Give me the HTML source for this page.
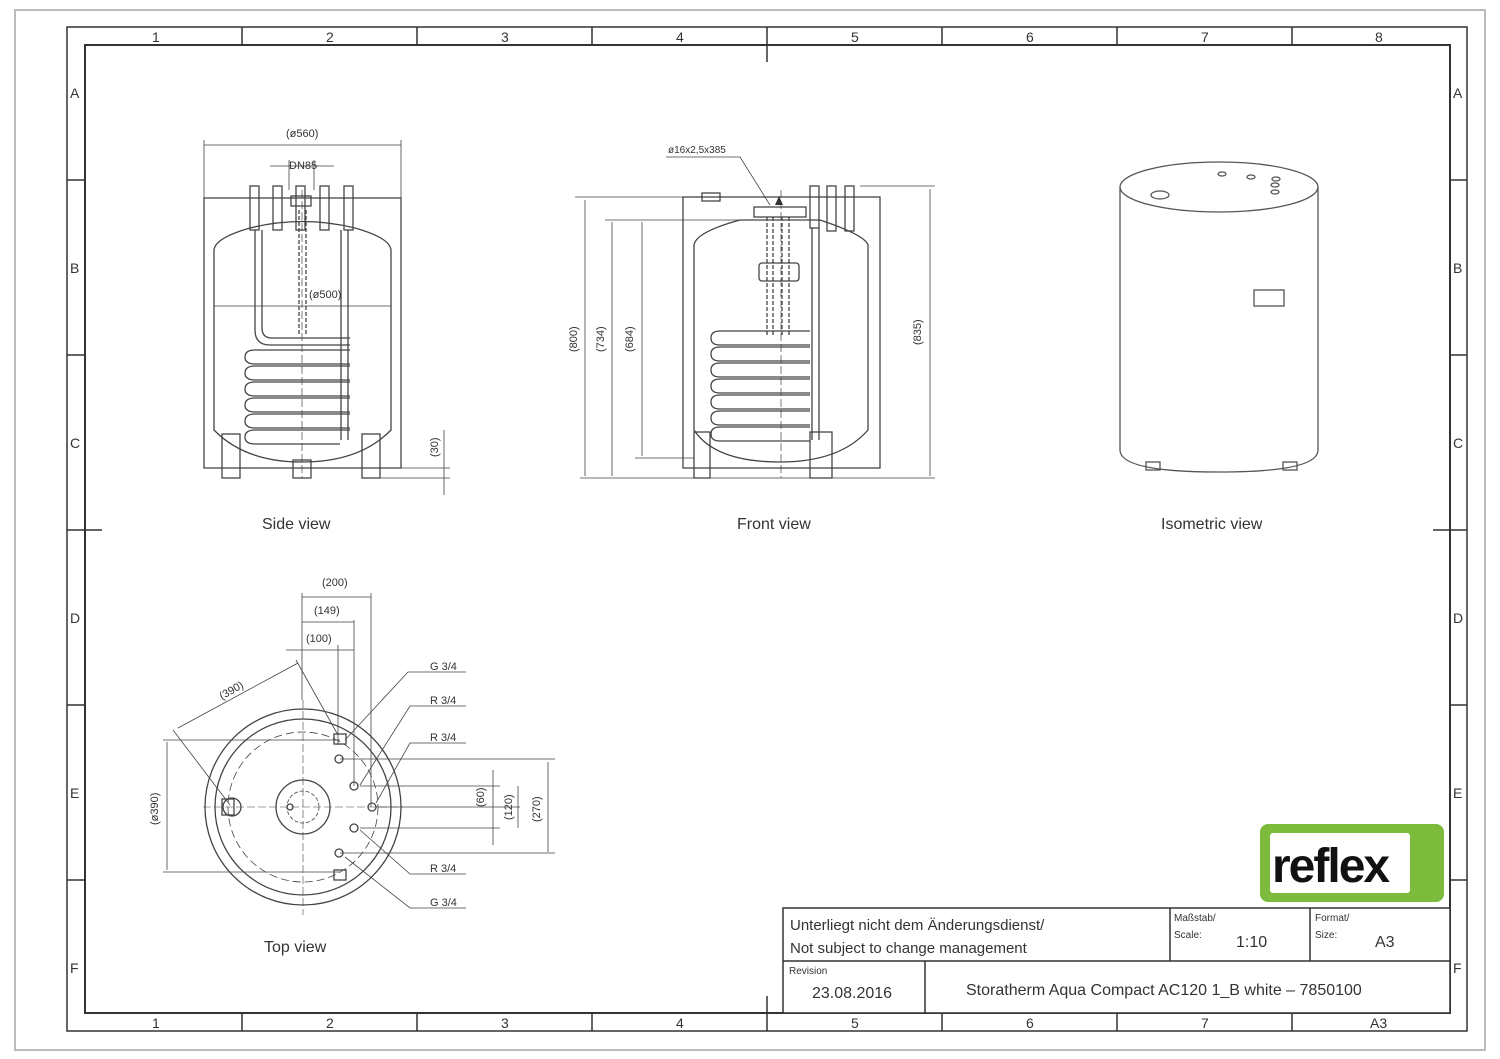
<!DOCTYPE html>
<html><head><meta charset="utf-8"><style>
html,body{margin:0;padding:0;background:#fff}
svg{display:block}
text{font-family:"Liberation Sans",sans-serif;fill:#333}
</style></head><body>
<svg width="1500" height="1059" viewBox="0 0 1500 1059" xmlns="http://www.w3.org/2000/svg">
<rect x="0" y="0" width="1500" height="1059" fill="#fff"/>
<rect x="15" y="10" width="1470" height="1040" fill="none" stroke="#bbb" stroke-width="2"/>
<g stroke="#333" fill="none" stroke-width="1.5">
<rect x="67" y="27" width="1400" height="1004"/>
<rect x="85" y="45" width="1365" height="968" stroke-width="2"/>
<!-- column ticks -->
<path d="M242 27V45M417 27V45M592 27V45M942 27V45M1117 27V45M1292 27V45M767 27V62
M242 1013V1031M417 1013V1031M592 1013V1031M942 1013V1031M1117 1013V1031M1292 1013V1031M767 996V1031
M67 180H85M67 355H85M67 705H85M67 880H85M67 530H102
M1450 180H1467M1450 355H1467M1450 705H1467M1450 880H1467M1433 530H1467"/>
</g>
<g font-size="14" fill="#444">
<text x="152" y="42">1</text><text x="326" y="42">2</text><text x="501" y="42">3</text><text x="676" y="42">4</text><text x="851" y="42">5</text><text x="1026" y="42">6</text><text x="1201" y="42">7</text><text x="1375" y="42">8</text>
<text x="152" y="1028">1</text><text x="326" y="1028">2</text><text x="501" y="1028">3</text><text x="676" y="1028">4</text><text x="851" y="1028">5</text><text x="1026" y="1028">6</text><text x="1201" y="1028">7</text><text x="1370" y="1028">A3</text>
<text x="70" y="98">A</text><text x="70" y="273">B</text><text x="70" y="448">C</text><text x="70" y="623">D</text><text x="70" y="798">E</text><text x="70" y="973">F</text>
<text x="1453" y="98">A</text><text x="1453" y="273">B</text><text x="1453" y="448">C</text><text x="1453" y="623">D</text><text x="1453" y="798">E</text><text x="1453" y="973">F</text>
</g>

<!-- SIDE VIEW -->
<g stroke="#444" fill="none" stroke-width="1.3">
<rect x="204" y="198" width="197" height="270"/>
<path d="M214 250Q215 238 250 228Q302 215 355 228Q390 238 391 250V430Q360 462 302 462Q245 462 214 430Z"/>
<rect x="250" y="186" width="9" height="44"/><rect x="273" y="186" width="9" height="44"/><rect x="296" y="186" width="9" height="44"/><rect x="320" y="186" width="9" height="44"/><rect x="344" y="186" width="9" height="44"/>
<rect x="291" y="196" width="20" height="10"/>
<path d="M299 210V335M306 210V335" stroke-dasharray="4 2"/>
<path d="M255 230V330Q255 345 270 345H350M262 230V328Q262 338 272 338H350"/>
<path d="M348 230V440M341 230V440"/>
<g>
<path d="M350 350H255Q245 350 245 357Q245 364 255 364H350M350 366H255Q245 366 245 373Q245 380 255 380H350M350 382H255Q245 382 245 389Q245 396 255 396H350M350 398H255Q245 398 245 405Q245 412 255 412H350M350 414H255Q245 414 245 421Q245 428 255 428H350M350 430H255Q245 430 245 437Q245 444 255 444H340"/>
</g>
<rect x="222" y="434" width="18" height="44"/><rect x="362" y="434" width="18" height="44"/><rect x="293" y="460" width="18" height="18"/>
<path d="M302 190V478" stroke-dasharray="8 3" stroke-width="0.7"/>
<path d="M204 198V140M401 198V140M204 145H401M214 306H391M289 190V160M314 190V160M270 166H334" stroke-width="0.8"/>
<path d="M401 468H450M380 478H450M444 430V495" stroke-width="0.8"/>
</g>
<g font-size="11"><text x="286" y="137">(ø560)</text><text x="289" y="169">DN85</text><text x="309" y="298">(ø500)</text>
<text transform="translate(438,457) rotate(-90)">(30)</text></g>
<text x="262" y="529" font-size="16">Side  view</text>

<!-- FRONT VIEW -->
<g stroke="#444" fill="none" stroke-width="1.3">
<rect x="683" y="197" width="197" height="271"/>
<rect x="702" y="193" width="18" height="8"/>
<rect x="754" y="207" width="52" height="10"/>
<path d="M694 245Q696 232 740 220H820Q865 235 868 245V430Q840 462 780 462Q715 462 694 430Z"/>
<rect x="810" y="186" width="9" height="42"/><rect x="827" y="186" width="9" height="45"/><rect x="845" y="186" width="9" height="45"/>
<path d="M812 228V440M819 228V440"/>
<path d="M767 217V335M773 217V335M782 217V335M789 217V335" stroke-dasharray="4 2"/>
<rect x="759" y="263" width="40" height="18" rx="3"/>
<path d="M810 331H720Q711 331 711 338Q711 345 720 345H810M810 347H720Q711 347 711 354Q711 361 720 361H810M810 363H720Q711 363 711 370Q711 377 720 377H810M810 379H720Q711 379 711 386Q711 393 720 393H810M810 395H720Q711 395 711 402Q711 409 720 409H810M810 411H720Q711 411 711 418Q711 425 720 425H810M810 427H720Q711 427 711 434Q711 441 720 441H810"/>
<rect x="694" y="432" width="16" height="46"/><rect x="810" y="432" width="22" height="46"/>
<path d="M781 190V478" stroke-dasharray="8 3" stroke-width="0.7"/>
<path d="M580 478H880M575 197H683M605 220H760M635 458H694M666 157H740L770 205M860 186H935M880 478H935" stroke-width="0.8"/>
<path d="M585 200V476M612 222V476M642 222V456M930 189V476" stroke-width="0.8"/>
</g>
<path d="M779 196L783 205H775Z" fill="#333"/>
<g font-size="11"><text x="668" y="153" font-size="10">ø16x2,5x385</text>
<text transform="translate(577,352) rotate(-90)">(800)</text>
<text transform="translate(604,352) rotate(-90)">(734)</text>
<text transform="translate(633,352) rotate(-90)">(684)</text>
<text transform="translate(921,345) rotate(-90)">(835)</text></g>
<text x="737" y="529" font-size="16">Front  view</text>

<!-- ISOMETRIC -->
<g stroke="#555" fill="none" stroke-width="1.3">
<path d="M1120 187V450Q1120 472 1219 472Q1318 472 1318 450V187"/>
<ellipse cx="1219" cy="187" rx="99" ry="25"/>
<ellipse cx="1160" cy="195" rx="9" ry="4"/>
<ellipse cx="1222" cy="174" rx="4" ry="2"/><ellipse cx="1251" cy="177" rx="4" ry="2"/><ellipse cx="1276" cy="179" rx="4" ry="2"/><ellipse cx="1275" cy="185" rx="4" ry="2"/><ellipse cx="1275" cy="192" rx="4" ry="2"/>
<rect x="1254" y="290" width="30" height="16"/>
<rect x="1146" y="462" width="14" height="8"/><rect x="1283" y="462" width="14" height="8"/>
</g>
<text x="1161" y="529" font-size="16">Isometric  view</text>

<!-- TOP VIEW -->
<g stroke="#444" fill="none" stroke-width="1.3">
<circle cx="303" cy="807" r="98"/>
<circle cx="303" cy="807" r="88"/>
<circle cx="303" cy="807" r="75" stroke-dasharray="8 4" stroke-width="0.8"/>
<circle cx="303" cy="807" r="27"/>
<circle cx="303" cy="807" r="16" stroke-dasharray="4 2" stroke-width="0.8"/>
<circle cx="290" cy="807" r="3"/>
<circle cx="232" cy="807" r="9"/>
<rect x="222" y="799" width="12" height="16"/>
<circle cx="339" cy="759" r="4"/><circle cx="354" cy="786" r="4"/><circle cx="372" cy="807" r="4"/><circle cx="354" cy="828" r="4"/><circle cx="339" cy="853" r="4"/>
<rect x="334" y="734" width="12" height="10"/><rect x="334" y="870" width="12" height="10"/>
<path d="M203 807H403M303 700V915" stroke-dasharray="8 3" stroke-width="0.6"/>
<g stroke-width="0.8">
<path d="M302 593V700M371 593V807M354 620V786M338 645V745M302 597H371M302 622H354M286 650H354"/>
<path d="M178 728L298 663M173 730L230 805M296 660L338 735"/>
<path d="M163 740H340M163 872H340M167 742V870"/>
<path d="M340 759H555M360 786H500M376 807H520M360 828H500M340 853H555M493 770V845M518 786V828M548 762V852"/>
<path d="M345 740L408 672H466M360 785L410 706H466M376 803L410 743H466M360 830L410 874H466M345 857L410 908H466"/>
</g>
</g>
<g font-size="11"><text x="322" y="586">(200)</text><text x="314" y="614">(149)</text><text x="306" y="642">(100)</text>
<text transform="translate(222,700) rotate(-30)">(390)</text>
<text transform="translate(158,825) rotate(-90)">(ø390)</text>
<text transform="translate(484,807) rotate(-90)">(60)</text>
<text transform="translate(512,820) rotate(-90)">(120)</text>
<text transform="translate(540,822) rotate(-90)">(270)</text>
<text x="430" y="670">G 3/4</text><text x="430" y="704">R 3/4</text><text x="430" y="741">R 3/4</text><text x="430" y="872">R 3/4</text><text x="430" y="906">G 3/4</text></g>
<text x="264" y="952" font-size="16">Top  view</text>

<!-- LOGO -->
<rect x="1260" y="824" width="184" height="78" rx="8" fill="#7dbb3c"/>
<rect x="1270" y="833" width="140" height="60" rx="3" fill="#fff"/>
<text x="1272" y="882" font-size="48" font-weight="bold" style="fill:#111;letter-spacing:-2px">reflex</text>

<!-- TITLE BLOCK -->
<g stroke="#333" fill="none" stroke-width="1.5">
<rect x="783" y="908" width="667" height="105" fill="#fff"/>
<path d="M783 961H1450M1170 908V961M1310 908V961M925 961V1013"/>
</g>
<g font-size="15" fill="#333">
<text x="790" y="930">Unterliegt  nicht  dem  Änderungsdienst/</text>
<text x="790" y="953">Not  subject  to  change  management</text>
<text x="1174" y="921" font-size="10">Maßstab/</text><text x="1174" y="938" font-size="10">Scale:</text>
<text x="1236" y="947" font-size="16">1:10</text>
<text x="1315" y="921" font-size="10">Format/</text><text x="1315" y="938" font-size="10">Size:</text>
<text x="1375" y="947" font-size="16">A3</text>
<text x="789" y="974" font-size="10">Revision</text>
<text x="812" y="998" font-size="16">23.08.2016</text>
<text x="966" y="995" font-size="16">Storatherm  Aqua  Compact  AC120  1_B  white  –  7850100</text>
</g>
</svg>
</body></html>
